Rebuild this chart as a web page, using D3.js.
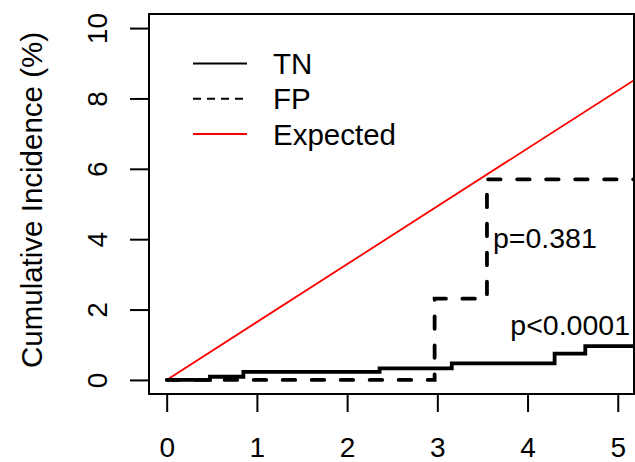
<!DOCTYPE html>
<html>
<head>
<meta charset="utf-8">
<script src="https://cdn.jsdelivr.net/npm/d3@7"></script>
<style>
    body { margin: 0; background: #fff; }
    svg { display: block; font-family: "Liberation Sans", Arial, sans-serif; }
    .axis path, .axis line { stroke: #000; stroke-width: 2; }
    .axis text { fill: #000; font-size: 28px; }
</style>
</head>
<body>
<svg id="chart" width="635" height="462"></svg>
<script>
/* =======================
   DATA
======================= */
const xTicks = [0, 1, 2, 3, 4, 5];
const yTicks = [0, 2, 4, 6, 8, 10];

// step curves (time, cumulative incidence %)
const tnTimes = [0, 0.48, 0.85, 2.36, 3.16, 4.30, 4.64, 5.4];
const tnValues = [0, 0.09, 0.23, 0.33, 0.47, 0.75, 0.96, 0.96];

const fpTimes = [0, 2.97, 3.55, 5.4];
const fpValues = [0, 2.31, 5.70, 5.70];

// expected incidence, straight line
const expTimes = [0, 5.18];
const expValues = [0, 8.52];

const legendLabels = ["TN", "FP", "Expected"];
const pLabels = ["p=0.381", "p<0.0001"];

/* =======================
   CHART
======================= */
const box = { left: 149, right: 634, top: 14, bottom: 394 };
const svg = d3.select("#chart");

const xScale = d3.scaleLinear().domain([-0.196, 5.18]).range([box.left, box.right]);
const yScale = d3.scaleLinear().domain([-0.4, 10.4]).range([box.bottom, box.top]);

svg.append("clipPath").attr("id", "plot-clip")
    .append("rect")
    .attr("x", box.left).attr("y", box.top)
    .attr("width", box.right - box.left).attr("height", box.bottom - box.top);

const plot = svg.append("g").attr("clip-path", "url(#plot-clip)");

const zip = (xs, ys) => xs.map((x, i) => ({ x, y: ys[i] }));

const stepLine = d3.line()
    .x(d => xScale(d.x))
    .y(d => yScale(d.y))
    .curve(d3.curveStepAfter);

const straightLine = d3.line()
    .x(d => xScale(d.x))
    .y(d => yScale(d.y));

// Expected
plot.append("path")
    .datum(zip(expTimes, expValues))
    .attr("d", straightLine)
    .attr("fill", "none")
    .attr("stroke", "#ff0000")
    .attr("stroke-width", 1.8);

// FP (dashed)
plot.append("path")
    .datum(zip(fpTimes, fpValues))
    .attr("d", stepLine)
    .attr("fill", "none")
    .attr("stroke", "#000")
    .attr("stroke-width", 3.8)
    .attr("stroke-linecap", "round")
    .attr("stroke-dasharray", "12.5,16.5");

// TN (solid)
plot.append("path")
    .datum(zip(tnTimes, tnValues))
    .attr("d", stepLine)
    .attr("fill", "none")
    .attr("stroke", "#000")
    .attr("stroke-width", 3.8)
    .attr("stroke-linejoin", "miter");

// Box
svg.append("rect")
    .attr("x", box.left).attr("y", box.top)
    .attr("width", box.right - box.left).attr("height", box.bottom - box.top)
    .attr("fill", "none")
    .attr("stroke", "#000")
    .attr("stroke-width", 2);

// Axes
const axisX = svg.append("g").attr("class", "axis")
    .attr("transform", `translate(0,${box.bottom})`)
    .call(d3.axisBottom(xScale).tickValues(xTicks).tickSize(18).tickFormat(d3.format("d")));
axisX.select(".domain").remove();
axisX.selectAll("text").attr("dy", null).attr("y", 63);

const axisY = svg.append("g").attr("class", "axis")
    .attr("transform", `translate(${box.left},0)`)
    .call(d3.axisLeft(yScale).tickValues(yTicks).tickSize(19).tickFormat(d3.format("d")));
axisY.select(".domain").remove();
axisY.selectAll("text")
    .attr("x", null).attr("dy", null)
    .attr("text-anchor", "middle")
    .attr("transform", "translate(-42,0) rotate(-90)");

// Y axis title
svg.append("text")
    .attr("transform", `translate(42,${(box.top + box.bottom) / 2 - 4}) rotate(-90)`)
    .attr("text-anchor", "middle")
    .attr("font-size", 29.5)
    .text("Cumulative Incidence (%)");

// p-value labels
svg.append("text")
    .attr("x", 493).attr("y", 248)
    .attr("font-size", 28.5)
    .text(pLabels[0]);

svg.append("text")
    .attr("x", 630).attr("y", 335)
    .attr("text-anchor", "end")
    .attr("font-size", 28.5)
    .text(pLabels[1]);

/* Legend */
const legendStyles = [
    { stroke: "#000", width: 2, dash: null },
    { stroke: "#000", width: 2, dash: "8,6" },
    { stroke: "#ff0000", width: 2, dash: null }
];
const legend = svg.append("g");
legendLabels.forEach((label, i) => {
    const y = 63.5 + i * 35.3;
    legend.append("line")
        .attr("x1", 193).attr("x2", 247)
        .attr("y1", y).attr("y2", y)
        .attr("stroke", legendStyles[i].stroke)
        .attr("stroke-width", legendStyles[i].width)
        .attr("stroke-dasharray", legendStyles[i].dash);
    legend.append("text")
        .attr("x", 273).attr("y", y + 10.5)
        .attr("font-size", 29.5)
        .text(label);
});
</script>
</body>
</html>
